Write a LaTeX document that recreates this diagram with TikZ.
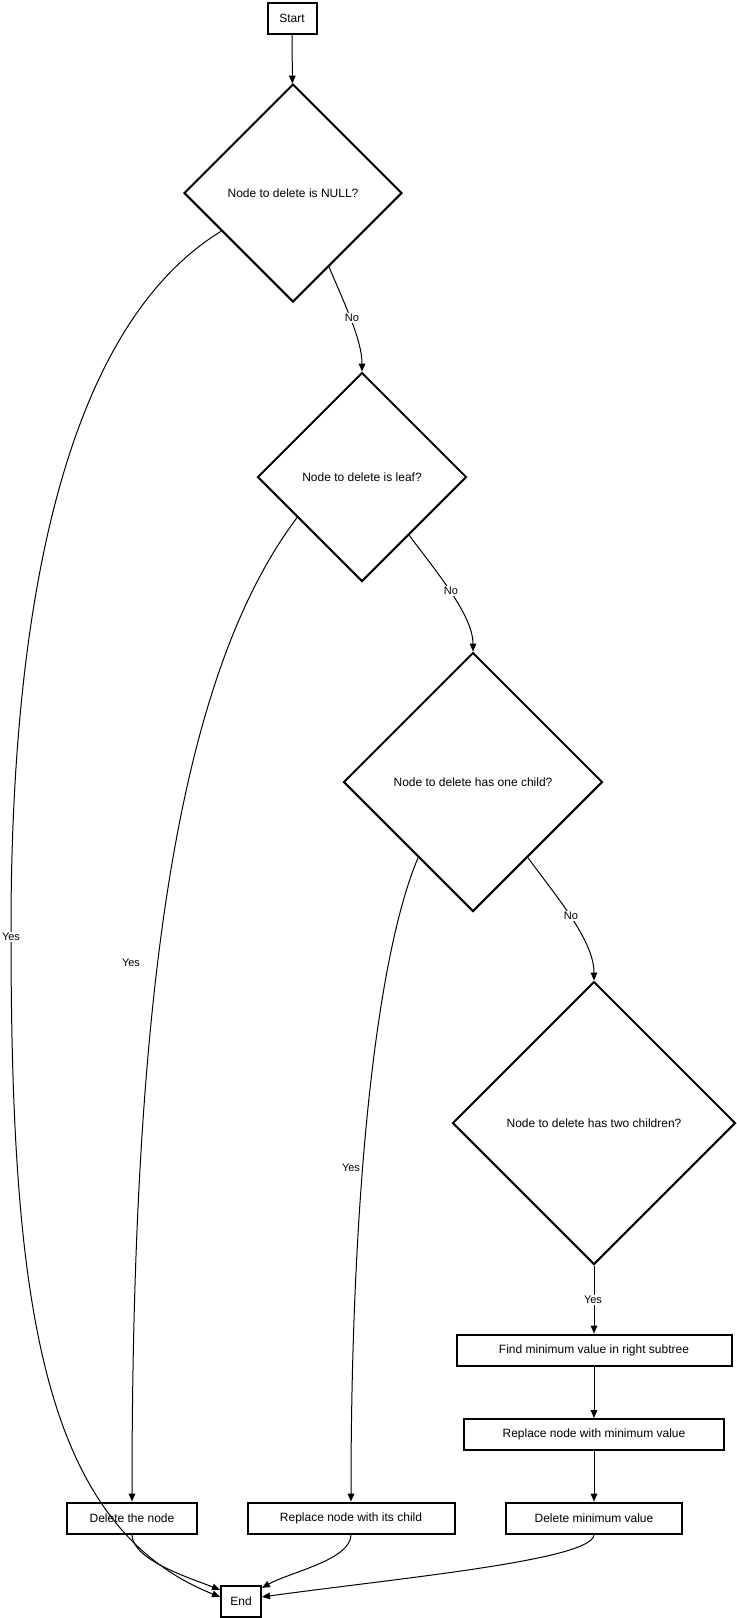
\documentclass[tikz,border=0pt]{standalone}
\usepackage{fontspec}
\setmainfont{Liberation Sans}
\usetikzlibrary{shapes.geometric,arrows.meta}
\begin{document}
\begin{tikzpicture}[
            x=0.75pt, y=-0.75pt,
            decision/.style={diamond, draw, line width=1.5pt, minimum size=#1*0.75pt, inner sep=0pt, font=\fontsize{9}{11}\selectfont},
            process/.style={rectangle, draw, line width=1.5pt, minimum width=#1*0.75pt, minimum height=23.25pt, inner sep=0pt, font=\fontsize{9}{11}\selectfont},
            edge/.style={line width=0.75pt, -{Triangle[length=6pt,width=5pt]}},
            lbl/.style={fill=white, inner sep=1pt, font=\fontsize{8.25}{10}\selectfont}
        ]
        \useasboundingbox (0,0) rectangle (737,1618);
        % questions down the diagonal
        \node[process=49] (start) at (292,18) {Start};
        \node[decision=218] (null) at (293,193) {Node to delete is NULL?};
        \node[decision=209] (leaf) at (362,477) {Node to delete is leaf?};
        \node[decision=259] (one) at (473,782) {Node to delete has one child?};
        \node[decision=283] (two) at (594,1123) {Node to delete has two children?};
        % actions
        \node[process=275] (findmin) at (594,1350) {Find minimum value in right subtree};
        \node[process=260] (replmin) at (594,1434.5) {Replace node with minimum value};
        \node[process=130] (delnode) at (132,1518) {Delete the node};
        \node[process=207] (replchild) at (351,1518) {Replace node with its child};
        \node[process=176] (delmin) at (594,1518) {Delete minimum value};
        \node[process=40] (stop) at (241,1601) {End};

        \draw[edge] (start) -- (null);
        \draw[edge] (null.296) .. controls (345,305) and (362,340) .. (leaf.north);
        \draw[edge] (leaf.309) .. controls (435,570) and (473,615) .. (one.north);
        \draw[edge] (one.306) .. controls (555,895) and (594,940) .. (two.north);
        \draw[edge] (null.208) .. controls (60,330) and (11,620) .. (11,930)
            .. controls (11,1300) and (40,1525) .. (stop.169);
        \draw[edge] (leaf.212) .. controls (176,678) and (132,1000) .. (delnode.north);
        \draw[edge] (one.234) .. controls (375,960) and (351,1200) .. (replchild.north);
        \draw[edge] (two) -- (findmin);
        \draw[edge] (findmin) -- (replmin);
        \draw[edge] (replmin) -- (delmin);
        \draw[edge] (delnode.south) .. controls (132,1560) and (190,1578) .. (stop.152);
        \draw[edge] (replchild.south) .. controls (351,1560) and (290,1572) .. (stop.32);
        \draw[edge] (delmin.south) .. controls (594,1560) and (400,1578) .. (stop.11);

        % edge labels
        \node[lbl] (no1) at (352,318) {No};
        \node[lbl] (no2) at (451,591) {No};
        \node[lbl] (no3) at (571,916) {No};
        \node[lbl] (yes1) at (11,937) {Yes};
        \node[lbl] (yes2) at (131,963) {Yes};
        \node[lbl] (yes3) at (351,1168) {Yes};
        \node[lbl] (yes4) at (593,1300) {Yes};
\end{tikzpicture}
\end{document}
